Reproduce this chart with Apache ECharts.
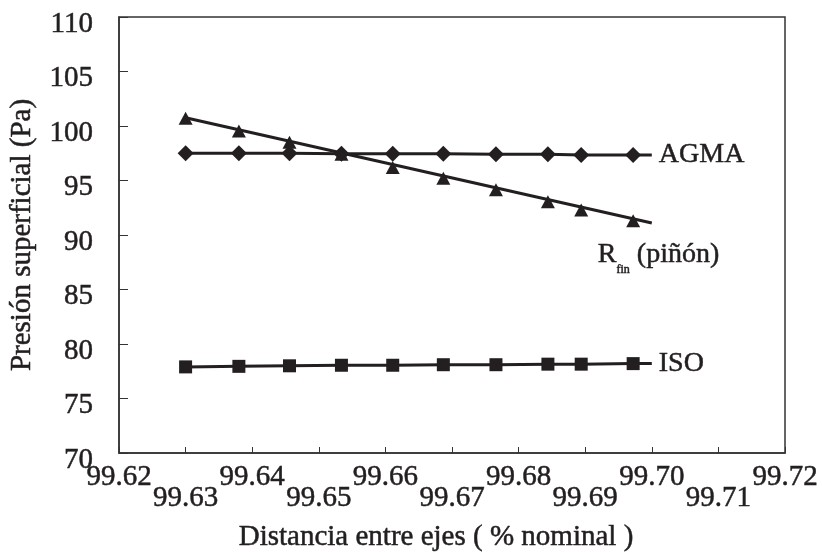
<!DOCTYPE html>
<html>
<head>
<meta charset="utf-8">
<script src="https://cdn.jsdelivr.net/npm/echarts@6/dist/echarts.min.js"></script>
<style>
  html, body { margin: 0; padding: 0; background: #fff; }
  #chart { width: 822px; height: 556px; }
</style>
</head>
<body>
<div id="chart"></div>
<script>
// distancia entre ejes (% nominal)
var distancia = [99.630, 99.638, 99.6456, 99.6534, 99.6611, 99.6687, 99.6766, 99.6844, 99.6894, 99.6972];
var agma = [97.5, 97.5, 97.5, 97.45, 97.45, 97.45, 97.4, 97.4, 97.35, 97.35];
var rfin = [100.7, 99.55, 98.5, 97.4, 96.2, 95.2, 94.15, 93.05, 92.3, 91.3];
var iso = [77.9, 77.95, 78.0, 78.05, 78.05, 78.1, 78.1, 78.15, 78.15, 78.2];
// linea de tendencia R_fin
var rfinFitX = [99.630, 99.700];
var rfinFitY = [100.75, 91.1];
var lineEnd = 99.70;

var ink = '#231f20';
var serif = '"Liberation Serif", "DejaVu Serif", serif';
var heavy = { textBorderColor: ink, textBorderWidth: 0.5 };

function pairs(xs, ys) {
    return xs.map(function (x, i) { return [x, ys[i]]; });
}
function withTail(xs, ys) {
    var d = pairs(xs, ys);
    d.push({ value: [lineEnd, ys[ys.length - 1]], symbol: 'none' });
    return d;
}
function txt(size, extra) {
    return Object.assign({ fontFamily: serif, fontSize: size, color: ink }, heavy, extra || {});
}

var chart = echarts.init(document.getElementById('chart'), null, { renderer: 'canvas' });
var option = {
    animation: false,
    grid: {
        left: 119, right: 37, top: 17, bottom: 103,
        outerBoundsMode: 'none', containLabel: false,
        show: true, borderColor: '#333', borderWidth: 1.5
    },
    xAxis: {
        type: 'value',
        min: 99.62, max: 99.72, interval: 0.01,
        name: 'Distancia entre ejes ( % nominal )',
        nameLocation: 'middle', nameGap: 70,
        nameTextStyle: txt(29, { padding: [0, 32, 0, 0] }),
        axisLine: { lineStyle: { color: '#333', width: 1.5 } },
        axisTick: { inside: true, length: 6, lineStyle: { color: '#333' } },
        splitLine: { show: false },
        axisLabel: {
            margin: 12, showMinLabel: true, showMaxLabel: true, hideOverlap: false,
            formatter: function (v) {
                var k = Math.round((v - 99.62) / 0.01);
                return (k % 2 === 0 ? '{a|' : '{b|') + v.toFixed(2) + '}';
            },
            rich: {
                a: txt(29, { lineHeight: 24 }),
                b: txt(29, { lineHeight: 66 })
            }
        }
    },
    yAxis: {
        type: 'value',
        min: 70, max: 110, interval: 5,
        name: 'Presión superficial (Pa)',
        nameLocation: 'middle', nameGap: 82,
        nameTextStyle: txt(29),
        axisLine: { lineStyle: { color: '#333', width: 1.5 } },
        axisTick: { inside: true, length: 9, lineStyle: { color: '#333' } },
        splitLine: { show: false },
        axisLabel: Object.assign({ margin: 26, verticalAlign: 'top', lineHeight: 14 }, txt(29))
    },
    series: [
        {
            name: 'AGMA', type: 'line',
            data: withTail(distancia, agma),
            symbol: 'diamond', symbolSize: [16, 16],
            itemStyle: { color: ink },
            lineStyle: { color: ink, width: 3 },
            endLabel: Object.assign({ show: true, formatter: 'AGMA', distance: 7 }, txt(28))
        },
        {
            name: 'ISO', type: 'line',
            data: withTail(distancia, iso),
            symbol: 'rect', symbolSize: 13,
            itemStyle: { color: ink },
            lineStyle: { color: ink, width: 3 },
            endLabel: Object.assign({ show: true, formatter: 'ISO', distance: 7 }, txt(28))
        },
        {
            name: 'Rfin', type: 'line',
            data: pairs(distancia, rfin),
            symbol: 'triangle', symbolSize: [14, 13],
            itemStyle: { color: ink },
            lineStyle: { width: 0 }
        },
        {
            name: 'Rfin tendencia', type: 'line',
            data: pairs(rfinFitX, rfinFitY),
            symbol: 'none',
            lineStyle: { color: ink, width: 3 },
            endLabel: {
                show: true,
                formatter: '{r|R}{s|fin}{r| (piñón)}',
                offset: [-62, 32],
                rich: {
                    r: txt(28, { lineHeight: 30 }),
                    s: txt(12, { lineHeight: 30, verticalAlign: 'bottom', padding: [0, 0, -6, 0] })
                }
            }
        }
    ]
};
chart.setOption(option);
</script>
</body>
</html>
